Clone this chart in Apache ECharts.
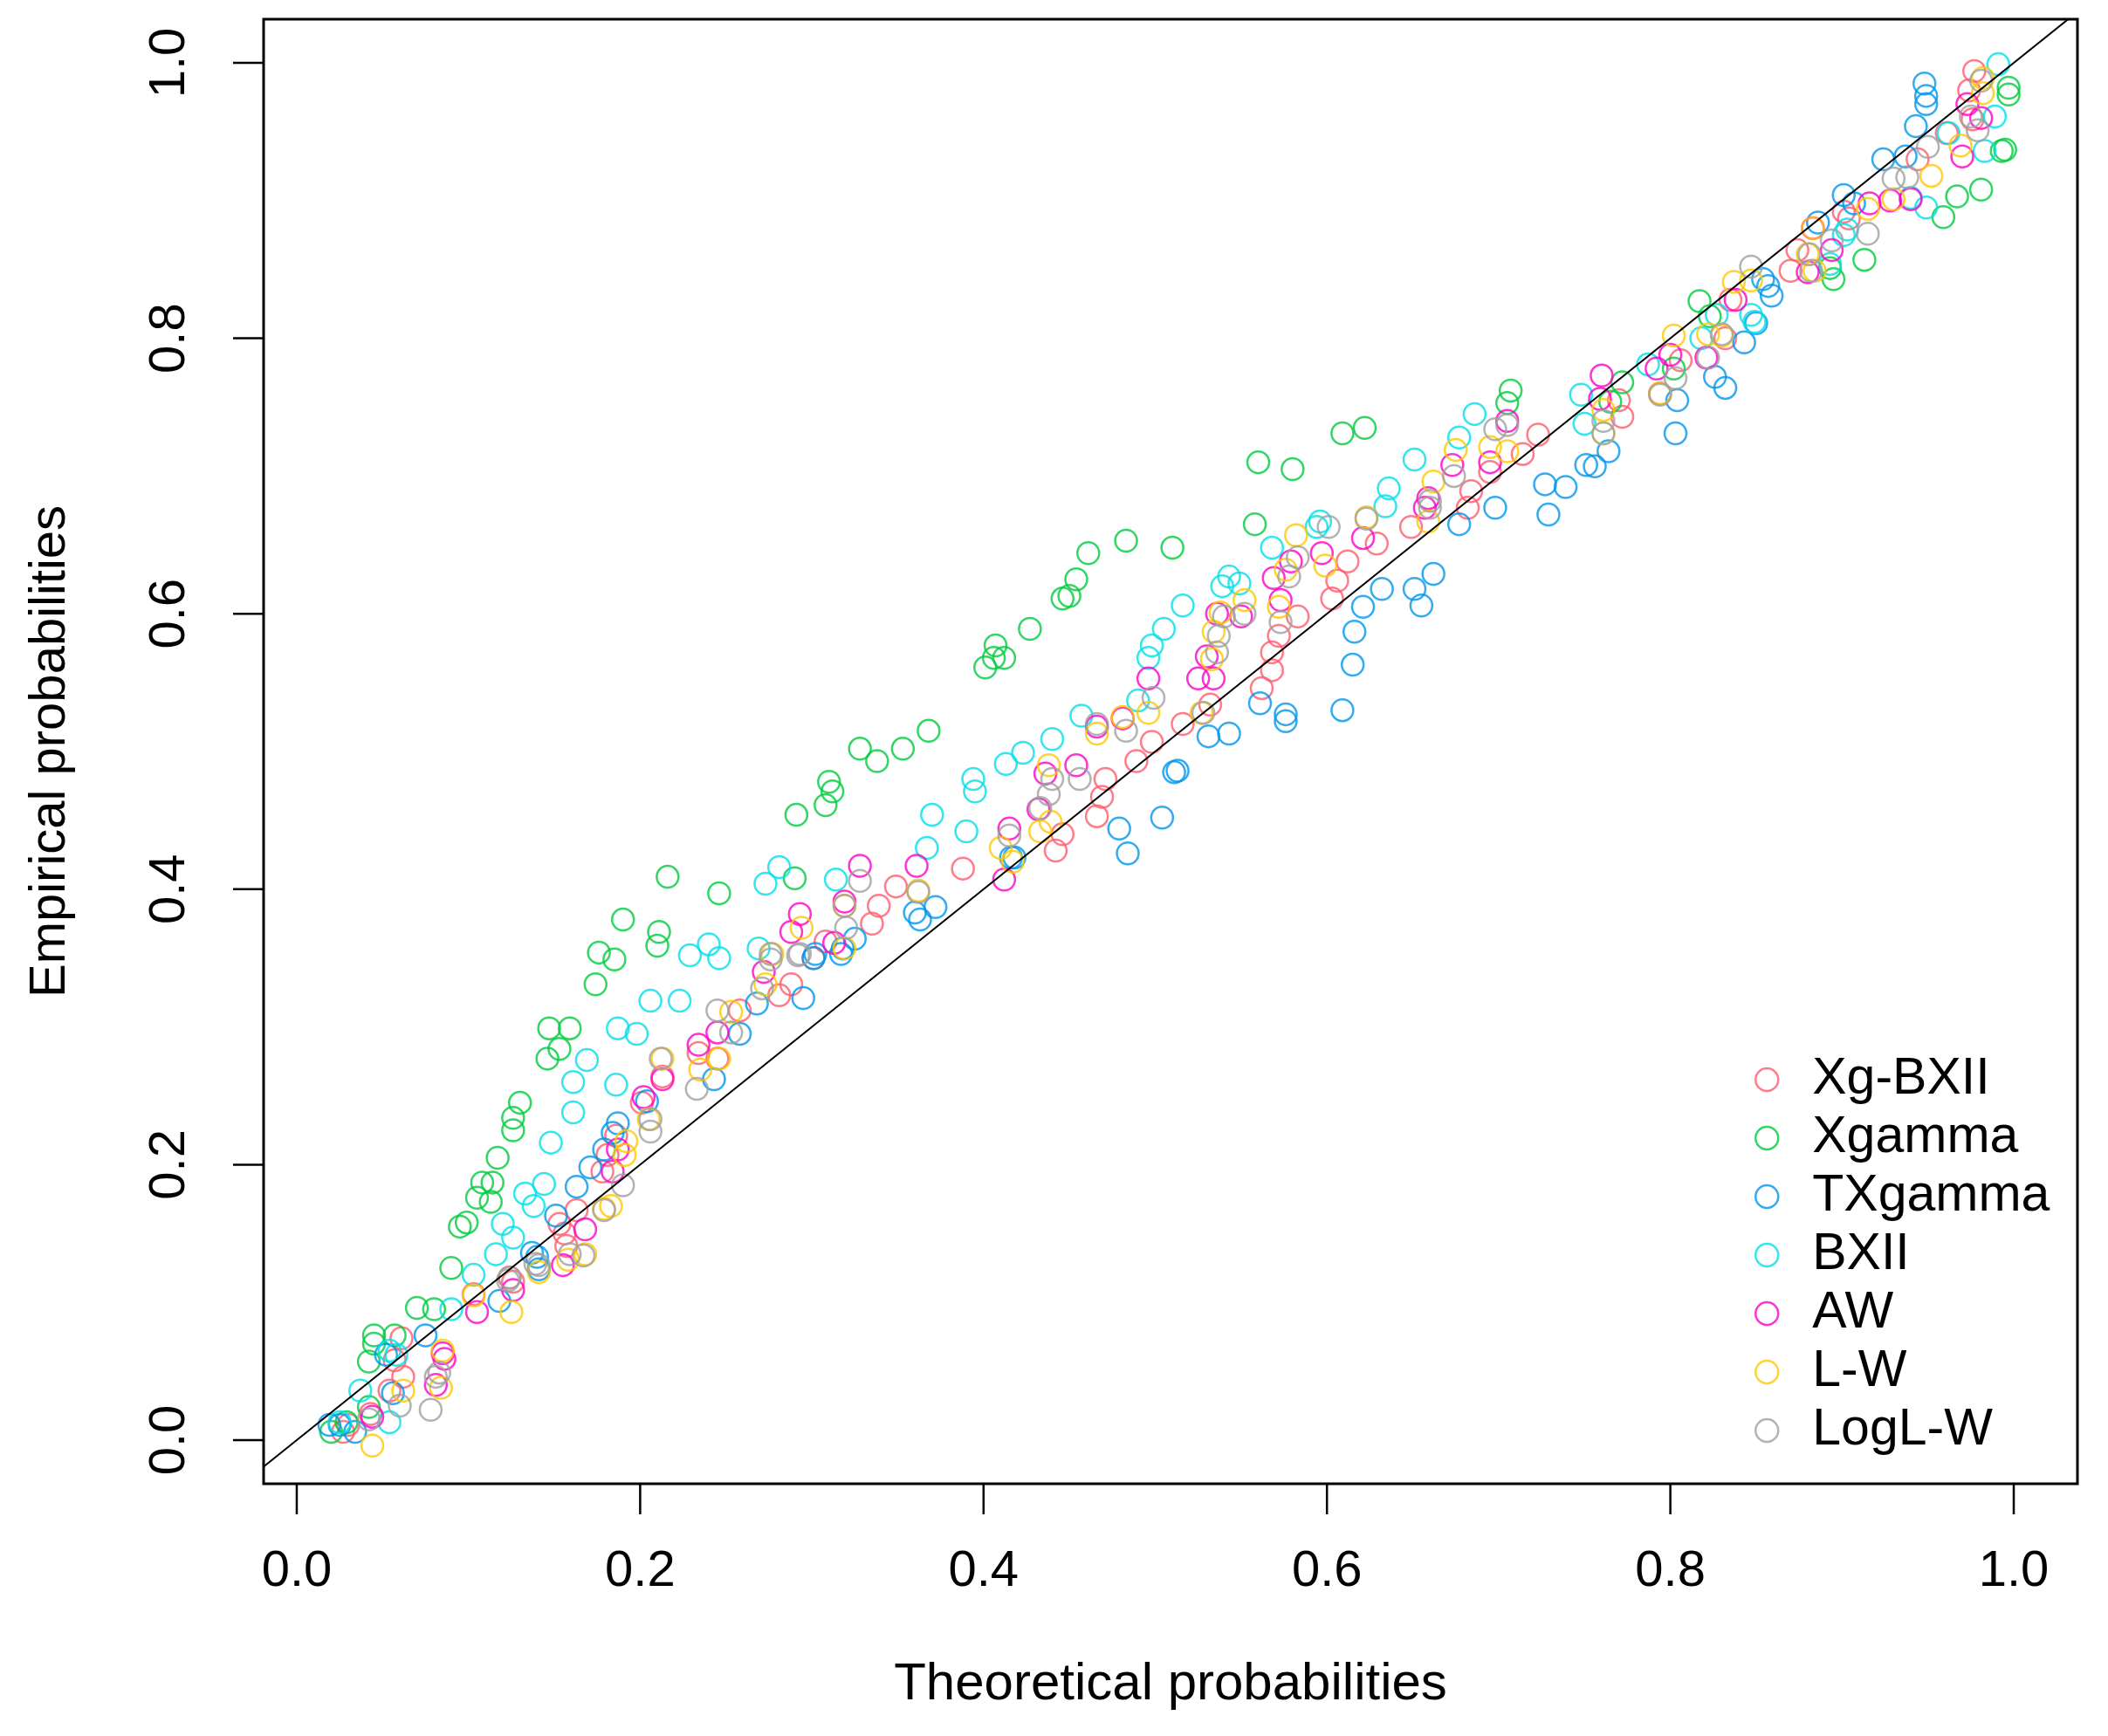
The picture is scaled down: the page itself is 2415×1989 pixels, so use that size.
<!DOCTYPE html>
<html>
<head>
<meta charset="utf-8">
<script src="https://cdn.jsdelivr.net/npm/echarts@6/dist/echarts.min.js"></script>
<style>
  html, body { margin: 0; padding: 0; background: #fff; }
  #chart { width: 2415px; height: 1989px; }
</style>
</head>
<body>
<div id="chart"></div>
<script>
// P-P plot data: [theoretical, empirical]
const xgBXII = [
  [0.027,0.006],[0.030,0.011],[0.043,0.019],[0.054,0.036],[0.062,0.046],[0.057,0.058],[0.061,0.074],
  [0.103,0.106],[0.124,0.118],[0.126,0.115],[0.156,0.150],[0.157,0.141],[0.153,0.157],[0.163,0.167],
  [0.178,0.195],[0.181,0.207],[0.186,0.221],[0.201,0.245],[0.213,0.264],[0.234,0.281],[0.245,0.277],
  [0.258,0.312],[0.281,0.323],[0.288,0.331],[0.301,0.350],[0.308,0.362],[0.335,0.375],[0.339,0.388],
  [0.349,0.402],[0.388,0.415],[0.442,0.428],[0.446,0.440],[0.466,0.453],[0.469,0.467],[0.471,0.480],
  [0.489,0.493],[0.498,0.507],[0.516,0.520],[0.532,0.534],[0.562,0.546],[0.568,0.559],[0.568,0.572],
  [0.572,0.584],[0.583,0.598],[0.603,0.611],[0.606,0.624],[0.612,0.638],[0.629,0.651],[0.649,0.663],
  [0.682,0.677],[0.684,0.689],[0.695,0.703],[0.714,0.716],[0.723,0.730],[0.770,0.755],[0.772,0.743],
  [0.794,0.760],[0.806,0.784],[0.832,0.800],[0.835,0.828],[0.870,0.849],[0.874,0.864],[0.901,0.892],
  [0.904,0.887],[0.944,0.930],[0.961,0.949],[0.976,0.959],[0.974,0.980],[0.977,0.994]
]
const xgamma = [
  [0.020,0.006],[0.029,0.013],[0.042,0.024],[0.042,0.057],[0.045,0.070],[0.045,0.076],[0.057,0.076],
  [0.070,0.096],[0.080,0.095],[0.090,0.125],[0.095,0.155],[0.099,0.158],[0.105,0.176],[0.108,0.187],
  [0.113,0.173],[0.114,0.187],[0.117,0.205],[0.126,0.225],[0.126,0.234],[0.130,0.245],[0.146,0.277],
  [0.153,0.284],[0.147,0.299],[0.159,0.299],[0.174,0.331],[0.176,0.354],[0.185,0.349],[0.190,0.378],
  [0.210,0.359],[0.211,0.369],[0.216,0.409],[0.246,0.397],[0.290,0.408],[0.291,0.454],[0.308,0.461],
  [0.312,0.471],[0.310,0.478],[0.328,0.502],[0.338,0.493],[0.353,0.502],[0.368,0.515],[0.401,0.561],
  [0.406,0.568],[0.412,0.568],[0.407,0.577],[0.427,0.589],[0.446,0.611],[0.450,0.613],[0.454,0.625],
  [0.461,0.644],[0.483,0.653],[0.510,0.648],[0.558,0.665],[0.560,0.710],[0.580,0.705],[0.609,0.731],
  [0.622,0.735],[0.705,0.753],[0.707,0.762],[0.765,0.754],[0.772,0.768],[0.802,0.778],[0.817,0.827],
  [0.823,0.816],[0.893,0.851],[0.895,0.843],[0.913,0.857],[0.959,0.888],[0.967,0.903],[0.981,0.908],
  [0.993,0.936],[0.995,0.937],[0.997,0.977],[0.997,0.982]
]
const txgamma = [
  [0.019,0.011],[0.025,0.011],[0.034,0.006],[0.056,0.034],[0.052,0.062],[0.075,0.076],[0.118,0.101],
  [0.141,0.124],[0.140,0.133],[0.137,0.136],[0.151,0.163],[0.163,0.184],[0.171,0.198],[0.179,0.211],
  [0.184,0.223],[0.187,0.230],[0.204,0.246],[0.243,0.262],[0.258,0.295],[0.268,0.317],[0.295,0.321],
  [0.301,0.350],[0.302,0.353],[0.317,0.353],[0.318,0.357],[0.325,0.364],[0.360,0.383],[0.363,0.378],
  [0.372,0.387],[0.416,0.423],[0.418,0.423],[0.479,0.444],[0.484,0.426],[0.504,0.452],[0.511,0.485],
  [0.513,0.486],[0.531,0.511],[0.543,0.513],[0.561,0.535],[0.576,0.522],[0.576,0.527],[0.609,0.530],
  [0.615,0.563],[0.616,0.587],[0.621,0.605],[0.632,0.618],[0.651,0.618],[0.655,0.606],[0.662,0.629],
  [0.677,0.665],[0.698,0.677],[0.727,0.694],[0.729,0.672],[0.739,0.692],[0.751,0.708],[0.756,0.707],
  [0.764,0.718],[0.803,0.731],[0.804,0.755],[0.826,0.772],[0.832,0.764],[0.843,0.797],[0.850,0.811],
  [0.854,0.843],[0.857,0.838],[0.859,0.831],[0.886,0.884],[0.901,0.904],[0.907,0.898],[0.924,0.930],
  [0.937,0.932],[0.943,0.954],[0.948,0.985],[0.949,0.976],[0.949,0.970]
]
const bxii = [
  [0.025,0.013],[0.037,0.036],[0.054,0.013],[0.054,0.065],[0.058,0.062],[0.090,0.095],[0.103,0.120],
  [0.116,0.135],[0.126,0.147],[0.120,0.157],[0.133,0.179],[0.138,0.170],[0.144,0.186],[0.148,0.216],
  [0.161,0.238],[0.161,0.260],[0.186,0.258],[0.169,0.276],[0.187,0.299],[0.198,0.295],[0.206,0.319],
  [0.223,0.319],[0.229,0.352],[0.240,0.360],[0.246,0.350],[0.269,0.357],[0.273,0.404],[0.281,0.416],
  [0.314,0.407],[0.367,0.430],[0.370,0.454],[0.390,0.442],[0.394,0.480],[0.395,0.471],[0.413,0.491],
  [0.423,0.499],[0.440,0.509],[0.457,0.526],[0.490,0.537],[0.496,0.568],[0.498,0.577],[0.505,0.589],
  [0.516,0.606],[0.539,0.620],[0.543,0.627],[0.549,0.622],[0.568,0.648],[0.594,0.663],[0.596,0.667],
  [0.634,0.678],[0.636,0.691],[0.651,0.712],[0.677,0.728],[0.686,0.745],[0.748,0.759],[0.750,0.738],
  [0.787,0.781],[0.818,0.800],[0.827,0.817],[0.847,0.817],[0.849,0.812],[0.893,0.854],[0.901,0.875],
  [0.903,0.879],[0.940,0.902],[0.949,0.895],[0.962,0.949],[0.983,0.936],[0.989,0.961],[0.991,0.999]
]
const aw = [
  [0.044,0.017],[0.081,0.040],[0.086,0.059],[0.085,0.063],[0.105,0.093],[0.126,0.109],[0.155,0.127],
  [0.168,0.153],[0.184,0.195],[0.187,0.211],[0.202,0.249],[0.213,0.262],[0.234,0.287],[0.245,0.296],
  [0.272,0.340],[0.288,0.369],[0.293,0.382],[0.313,0.361],[0.319,0.391],[0.328,0.417],[0.361,0.417],
  [0.412,0.407],[0.415,0.444],[0.432,0.458],[0.436,0.484],[0.454,0.490],[0.466,0.518],[0.481,0.524],
  [0.496,0.553],[0.525,0.553],[0.534,0.553],[0.530,0.569],[0.536,0.600],[0.550,0.598],[0.573,0.610],
  [0.569,0.626],[0.579,0.638],[0.597,0.644],[0.621,0.655],[0.657,0.677],[0.659,0.684],[0.673,0.708],
  [0.695,0.710],[0.705,0.740],[0.759,0.756],[0.760,0.773],[0.792,0.778],[0.800,0.788],[0.821,0.786],
  [0.838,0.828],[0.880,0.848],[0.883,0.880],[0.894,0.864],[0.916,0.898],[0.928,0.900],[0.940,0.901],
  [0.970,0.932],[0.973,0.970],[0.981,0.960]
]
const lw = [
  [0.044,-0.004],[0.062,0.036],[0.084,0.038],[0.085,0.065],[0.103,0.105],[0.125,0.093],[0.141,0.122],
  [0.158,0.131],[0.168,0.135],[0.179,0.168],[0.183,0.170],[0.191,0.207],[0.192,0.217],[0.205,0.233],
  [0.213,0.277],[0.235,0.269],[0.246,0.277],[0.253,0.311],[0.273,0.331],[0.277,0.353],[0.294,0.372],
  [0.319,0.357],[0.319,0.388],[0.362,0.399],[0.410,0.430],[0.417,0.420],[0.433,0.442],[0.439,0.449],
  [0.438,0.490],[0.466,0.513],[0.481,0.525],[0.496,0.528],[0.527,0.528],[0.533,0.567],[0.534,0.587],
  [0.538,0.601],[0.552,0.610],[0.572,0.605],[0.576,0.632],[0.582,0.657],[0.599,0.635],[0.623,0.670],
  [0.659,0.667],[0.662,0.696],[0.675,0.719],[0.695,0.721],[0.705,0.718],[0.761,0.731],[0.761,0.748],
  [0.794,0.760],[0.802,0.802],[0.822,0.803],[0.830,0.802],[0.837,0.841],[0.847,0.842],[0.880,0.861],
  [0.883,0.880],[0.884,0.849],[0.915,0.894],[0.930,0.901],[0.952,0.918],[0.969,0.940],[0.982,0.978],
  [0.982,0.989]
]
const loglw = [
  [0.042,0.015],[0.060,0.025],[0.078,0.022],[0.081,0.046],[0.083,0.049],[0.123,0.116],[0.124,0.118],
  [0.139,0.128],[0.141,0.127],[0.159,0.135],[0.167,0.134],[0.179,0.167],[0.190,0.185],[0.206,0.224],
  [0.206,0.233],[0.212,0.277],[0.233,0.255],[0.245,0.312],[0.253,0.296],[0.271,0.328],[0.276,0.349],
  [0.276,0.353],[0.292,0.352],[0.293,0.353],[0.319,0.388],[0.320,0.372],[0.328,0.406],[0.362,0.398],
  [0.415,0.439],[0.433,0.459],[0.438,0.469],[0.440,0.480],[0.456,0.480],[0.466,0.520],[0.483,0.515],
  [0.499,0.539],[0.528,0.528],[0.536,0.572],[0.537,0.584],[0.540,0.598],[0.552,0.600],[0.573,0.594],
  [0.578,0.627],[0.583,0.641],[0.601,0.663],[0.623,0.669],[0.660,0.677],[0.660,0.682],[0.674,0.700],
  [0.698,0.734],[0.705,0.737],[0.761,0.731],[0.761,0.740],[0.794,0.759],[0.803,0.771],[0.822,0.786],
  [0.830,0.803],[0.847,0.852],[0.881,0.861],[0.882,0.849],[0.894,0.871],[0.915,0.876],[0.930,0.916],
  [0.938,0.917],[0.950,0.939],[0.975,0.961],[0.979,0.951],[0.981,0.987]
]

const seriesNames = ['Xg-BXII', 'Xgamma', 'TXgamma', 'BXII', 'AW', 'L-W', 'LogL-W']
const seriesData = [xgBXII, xgamma, txgamma, bxii, aw, lw, loglw]
const seriesColors = ['#FF5C6E', '#00CC3F', '#0096EC', '#00E0E8', '#FF00C8', '#FFC800', '#A0A0A0']
const tickValues = [0, 0.2, 0.4, 0.6, 0.8, 1.0]
// 45 degree reference line (y = x)
const refLine = [[-0.1, -0.1], [1.1, 1.1]]

const FONT = "'Liberation Sans', Arial, sans-serif"
const TICK_LEN = 35
const GRID = { left: 302, top: 22, width: 2078, height: 1678 }

const chart = echarts.init(document.getElementById('chart'), null, { renderer: 'canvas' })

//散点系列
const scatterSeries = seriesNames.map((name, i) => ({
  type: 'scatter',
  name: name,
  data: seriesData[i],
  symbol: 'circle',
  symbolSize: 25,
  itemStyle: {
    color: 'rgba(0,0,0,0)',
    borderColor: seriesColors[i],
    borderWidth: 2.5
  },
  silent: true
}))

const option = {
  animation: false,
  backgroundColor: '#fff',
  textStyle: { fontFamily: FONT, color: '#000' },
  grid: Object.assign({
    show: true,
    borderColor: '#000',
    borderWidth: 3,
    backgroundColor: 'transparent'
  }, GRID),
  legend: {
    orient: 'vertical',
    left: 2010,
    top: 1207,
    padding: 0,
    itemWidth: 26,
    itemHeight: 26,
    itemGap: 7,
    selectedMode: false,
    textStyle: {
      fontFamily: FONT,
      fontSize: 59,
      color: '#000',
      lineHeight: 60,
      padding: [0, 0, 0, 34]
    },
    data: seriesNames.map((name, i) => ({
      name: name,
      icon: 'circle',
      itemStyle: {
        color: 'rgba(0,0,0,0)',
        borderColor: seriesColors[i],
        borderWidth: 2.5
      }
    }))
  },
  xAxis: {
    type: 'value',
    min: -0.0193,
    max: 1.0371,
    name: 'Theoretical probabilities',
    nameLocation: 'middle',
    nameGap: 200,
    nameTextStyle: { fontFamily: FONT, fontSize: 60, color: '#000' },
    axisLine: { show: false, onZero: false },
    splitLine: { show: false },
    axisTick: { show: false },
    axisLabel: {
      customValues: tickValues,
      formatter: v => v.toFixed(1),
      fontFamily: FONT,
      fontSize: 58,
      color: '#000',
      margin: 72
    }
  },
  yAxis: {
    type: 'value',
    min: -0.0317,
    max: 1.0317,
    name: 'Empirical probabilities',
    nameLocation: 'middle',
    nameGap: 215,
    nameTextStyle: { fontFamily: FONT, fontSize: 58, color: '#000' },
    axisLine: { show: false, onZero: false },
    splitLine: { show: false },
    axisTick: { show: false },
    axisLabel: {
      customValues: tickValues,
      formatter: v => v.toFixed(1),
      rotate: 90,
      fontFamily: FONT,
      fontSize: 58,
      color: '#000',
      margin: 78
    }
  },
  series: scatterSeries.concat([{
    type: 'line',
    name: 'ref',
    data: refLine,
    showSymbol: false,
    symbol: 'none',
    clip: true,
    silent: true,
    lineStyle: { color: '#000', width: 2 },
    z: 5
  }])
}

chart.setOption(option)

// outward tick marks (R style), positions taken from the axis scales
const bottom = GRID.top + GRID.height
const left = GRID.left
const tickEls = []
tickValues.forEach(v => {
  const px = chart.convertToPixel({ xAxisIndex: 0 }, v)
  const py = chart.convertToPixel({ yAxisIndex: 0 }, v)
  tickEls.push({
    type: 'line', z: 100, silent: true,
    shape: { x1: px, y1: bottom, x2: px, y2: bottom + TICK_LEN },
    style: { stroke: '#000', lineWidth: 2.5 }
  })
  tickEls.push({
    type: 'line', z: 100, silent: true,
    shape: { x1: left - TICK_LEN, y1: py, x2: left, y2: py },
    style: { stroke: '#000', lineWidth: 2.5 }
  })
})
chart.setOption({ graphic: { elements: tickEls } })
</script>
</body>
</html>
